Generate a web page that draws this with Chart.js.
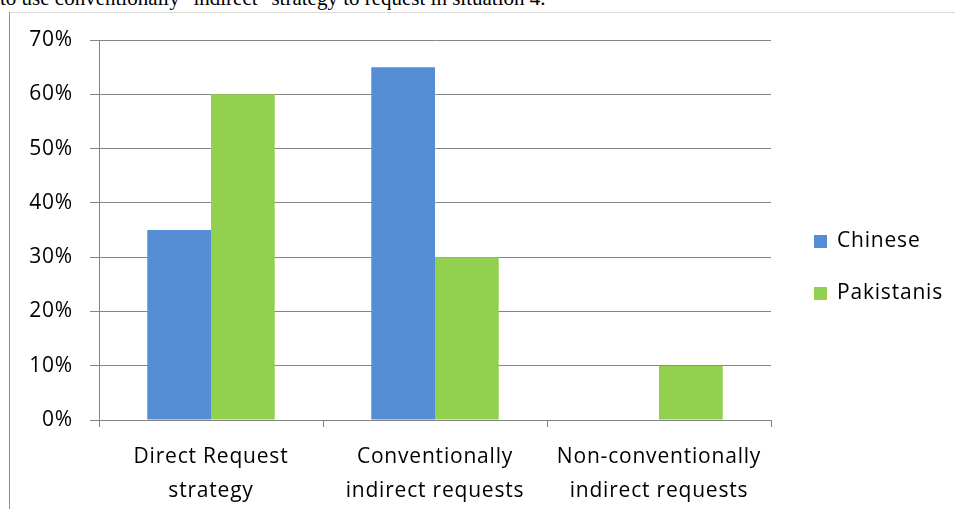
<!DOCTYPE html>
<html>
<head>
<meta charset="utf-8">
<script src="https://cdn.jsdelivr.net/npm/chart.js@4/dist/chart.umd.min.js"></script>
<style>
  html, body { margin: 0; padding: 0; background: #fff; overflow: hidden; }
  #wrap { position: relative; width: 955px; height: 509px; }
  #caption {
    position: absolute; left: 0; top: -12px; white-space: nowrap;
    font-family: "Liberation Serif", "Times New Roman", serif;
    font-size: 21px; line-height: 21px; color: #000;
  }
  #frameTop { position: absolute; left: 9px; top: 12px; width: 946px; height: 1px; background: #d9d9d9; }
  #frameLeft { position: absolute; left: 9px; top: 12px; width: 1px; height: 497px; background: #8c8c8c; }
  canvas { position: absolute; left: 0; top: 0; }
</style>
</head>
<body>
<div id="wrap">
  <div id="caption">to use conventionally "indirect" strategy to request in situation 4.</div>
  <div id="frameTop"></div>
  <div id="frameLeft"></div>
  <canvas id="c" width="955" height="509"></canvas>
</div>
<script>
// Request strategy categories and the share of each group using them
const categories = [
  ["Direct Request", "strategy"],
  ["Conventionally", "indirect requests"],
  ["Non-conventionally", "indirect requests"]
];
const seriesNames = ["Chinese", "Pakistanis"];
const chineseValues = [35, 65, 0];
const pakistaniValues = [60, 30, 10];
const yTicks = [0, 10, 20, 30, 40, 50, 60, 70];

const colors = ["#558ed5", "#92d050"];
const axisGray = "#868686";
const labelFont = { family: "'Open Sans', Lato, sans-serif", size: 21 };

// Slightly open tracking for all chart text
const tracking = {
  id: "tracking",
  beforeDraw(chart) { chart.ctx.letterSpacing = "0.8px"; }
};

// Legend drawn to the right of the plot, stacked vertically
const sideLegend = {
  id: "sideLegend",
  afterDraw(chart) {
    const ctx = chart.ctx;
    ctx.save();
    ctx.font = `${labelFont.size}px ${labelFont.family}`;
    ctx.letterSpacing = "0.8px";
    ctx.textBaseline = "middle";
    chart.data.datasets.forEach((ds, i) => {
      const y = 241 + i * 52;
      ctx.fillStyle = ds.backgroundColor;
      ctx.fillRect(814, y - 6, 13, 13);
      ctx.fillStyle = "#000";
      ctx.fillText(ds.label, 837, y);
    });
    ctx.restore();
  }
};

new Chart(document.getElementById("c"), {
  type: "bar",
  data: {
    labels: categories,
    datasets: [
      { label: seriesNames[0], data: chineseValues, backgroundColor: colors[0] },
      { label: seriesNames[1], data: pakistaniValues, backgroundColor: colors[1] }
    ]
  },
  options: {
    responsive: false,
    animation: false,
    devicePixelRatio: 1,
    layout: { padding: { top: 40, right: 184, left: 0, bottom: 0 } },
    datasets: { bar: { categoryPercentage: 0.569, barPercentage: 1.0 } },
    plugins: { legend: { display: false }, tooltip: { enabled: false } },
    scales: {
      x: {
        offset: true,
        grid: {
          offset: true,
          drawOnChartArea: false,
          drawTicks: true,
          tickLength: 7,
          color: axisGray
        },
        border: { color: axisGray, width: 1 },
        ticks: {
          color: "#000",
          font: { ...labelFont, lineHeight: 1.62 },
          padding: 13,
          maxRotation: 0,
          autoSkip: false
        },
        afterFit(scale) { scale.height = 89; }
      },
      y: {
        min: 0,
        max: 70,
        afterBuildTicks(scale) { scale.ticks = yTicks.map(v => ({ value: v })); },
        grid: { color: axisGray, lineWidth: 1, tickLength: 9, drawTicks: true },
        border: { color: axisGray, width: 1 },
        ticks: {
          color: "#000",
          font: labelFont,
          padding: 17,
          callback: v => v + "%"
        },
        afterFit(scale) { scale.width = 99; }
      }
    }
  },
  plugins: [tracking, sideLegend]
});
</script>
</body>
</html>
